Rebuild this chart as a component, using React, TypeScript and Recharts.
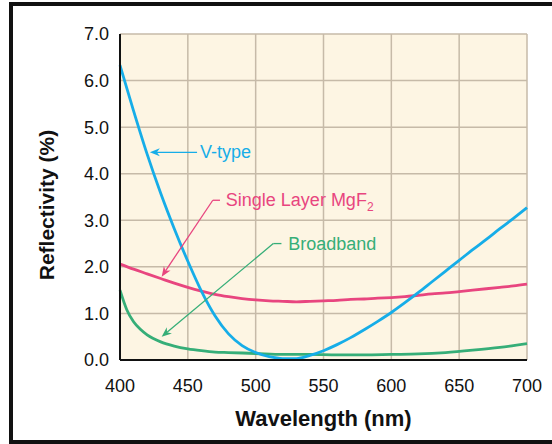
import React from 'react';
import { LineChart, Line, XAxis, YAxis, CartesianGrid, ReferenceLine, ReferenceDot } from 'recharts';

// Reflectivity (%), per coating
const vTypeNm = [400, 410, 420, 430, 440, 450, 460, 470, 480, 490, 500, 510, 520, 530, 540, 550, 560, 570, 580, 590, 600, 610, 620, 630, 640, 650, 660, 670, 680, 690, 700];
const vTypeR = [6.33, 5.35, 4.42, 3.58, 2.82, 2.12, 1.48, 0.95, 0.56, 0.31, 0.16, 0.07, 0.03, 0.03, 0.1, 0.2, 0.33, 0.48, 0.65, 0.83, 1.02, 1.23, 1.45, 1.68, 1.91, 2.14, 2.37, 2.59, 2.82, 3.04, 3.27];

const mgf2Nm = [400, 410, 420, 430, 440, 450, 460, 470, 480, 490, 500, 510, 520, 530, 540, 550, 560, 570, 580, 590, 600, 610, 620, 630, 640, 650, 660, 670, 680, 690, 700];
const mgf2R = [2.06, 1.95, 1.85, 1.75, 1.65, 1.56, 1.48, 1.41, 1.36, 1.32, 1.29, 1.27, 1.26, 1.25, 1.26, 1.27, 1.28, 1.3, 1.31, 1.33, 1.34, 1.36, 1.39, 1.42, 1.44, 1.47, 1.5, 1.53, 1.56, 1.59, 1.63];

const broadNm = [400, 405, 410, 415, 420, 430, 440, 450, 460, 470, 480, 490, 500, 520, 540, 560, 580, 600, 620, 640, 660, 680, 700];
const broadR = [1.5, 1.08, 0.82, 0.66, 0.54, 0.39, 0.3, 0.24, 0.2, 0.17, 0.16, 0.15, 0.14, 0.12, 0.12, 0.11, 0.11, 0.12, 0.13, 0.16, 0.21, 0.27, 0.35];

const xTicks = [400, 450, 500, 550, 600, 650, 700];
const yTicks = [0, 1, 2, 3, 4, 5, 6, 7];

const toRows = (nm: number[], r: number[]) => nm.map((w, i) => ({ nm: w, r: r[i] }));
const vType = toRows(vTypeNm, vTypeR);
const mgf2 = toRows(mgf2Nm, mgf2R);
const broad = toRows(broadNm, broadR);

const BLUE = '#16ade8';
const PINK = '#e8457f';
const GREEN = '#36ae78';
const FONT = '"Liberation Sans", Arial, sans-serif';

// leader line, arrowhead at the second point when arrow is set
const leader = (color: string, arrow: boolean) => (p: any) => {
  const { x1, y1, x2, y2 } = p;
  if (!arrow) return <line x1={x1} y1={y1} x2={x2} y2={y2} stroke={color} strokeWidth={1.3} />;
  const a = Math.atan2(y2 - y1, x2 - x1);
  const L = 10, W = 4;
  const bx = x2 - L * Math.cos(a), by = y2 - L * Math.sin(a);
  const nx = x2 - L * 0.7 * Math.cos(a), ny = y2 - L * 0.7 * Math.sin(a);
  const pts = [
    [x2, y2],
    [bx + W * Math.sin(a), by - W * Math.cos(a)],
    [nx, ny],
    [bx - W * Math.sin(a), by + W * Math.cos(a)],
  ].map((q) => q.join(',')).join(' ');
  return (
    <g>
      <line x1={x1} y1={y1} x2={nx} y2={ny} stroke={color} strokeWidth={1.3} />
      <polygon points={pts} fill={color} />
    </g>
  );
};

const note = (text: string, color: string, sub?: string) => (p: any) => (
  <text x={p.cx} y={p.cy} dy={6} fill={color} fontSize={18} fontFamily={FONT} textAnchor="start">
    <tspan>{text}</tspan>
    {sub && <tspan dy={5} fontSize={12}>{sub}</tspan>}
  </text>
);

const tickStyle = { fill: '#111', fontSize: 18, fontFamily: FONT };

export default function App() {
  return (
    <div style={{ position: 'fixed', left: 0, top: 0, width: 552, height: 444, background: '#fff', overflow: 'hidden' }}>
      <div style={{ position: 'absolute', left: 9, top: 2, width: 600, height: 434, border: '4px solid #111' }} />
      <div style={{ position: 'absolute', left: 0, top: 0 }}>
        <LineChart width={552} height={444} margin={{ top: 34, right: 25, bottom: 34, left: 0 }}>
          <CartesianGrid fill="#fdf5e3" stroke="#c6baa8" strokeWidth={1.5} horizontalValues={yTicks} verticalValues={xTicks} />
          <XAxis
            dataKey="nm" type="number" domain={[400, 700]} ticks={xTicks} allowDuplicatedCategory={false} height={50}
            tick={tickStyle} tickSize={0} tickMargin={19} axisLine={{ stroke: '#111', strokeWidth: 2 }}
          />
          <XAxis xAxisId="top" orientation="top" type="number" domain={[400, 700]} tick={false} height={0} axisLine={{ stroke: '#555', strokeWidth: 1.5 }} />
          <YAxis
            type="number" domain={[0, 7]} ticks={yTicks} width={120} tickFormatter={(v: number) => v.toFixed(1)}
            tick={tickStyle} tickSize={0} tickMargin={11} axisLine={{ stroke: '#111', strokeWidth: 2 }}
          />
          <YAxis yAxisId="right" orientation="right" type="number" domain={[0, 7]} tick={false} width={0} axisLine={{ stroke: '#555', strokeWidth: 1.5 }} />

          <Line data={broad} dataKey="r" type="monotone" stroke={GREEN} strokeWidth={2.8} dot={false} isAnimationActive={false} />
          <Line data={mgf2} dataKey="r" type="monotone" stroke={PINK} strokeWidth={2.8} dot={false} isAnimationActive={false} />
          <Line data={vType} dataKey="r" type="monotone" stroke={BLUE} strokeWidth={2.8} dot={false} isAnimationActive={false} />

          <ReferenceLine segment={[{ x: 456.8, y: 4.46 }, { x: 422, y: 4.46 }]} shape={leader(BLUE, true)} />
          <ReferenceDot x={459} y={4.46} r={0} shape={note('V-type', BLUE)} />

          <ReferenceLine segment={[{ x: 473.7, y: 3.43 }, { x: 468.4, y: 3.43 }]} shape={leader(PINK, false)} />
          <ReferenceLine segment={[{ x: 468.4, y: 3.43 }, { x: 430.7, y: 1.79 }]} shape={leader(PINK, true)} />
          <ReferenceDot x={478} y={3.43} r={0} shape={note('Single Layer MgF', PINK, '2')} />

          <ReferenceLine segment={[{ x: 519, y: 2.5 }, { x: 513, y: 2.5 }]} shape={leader(GREEN, false)} />
          <ReferenceLine segment={[{ x: 513, y: 2.5 }, { x: 430.7, y: 0.5 }]} shape={leader(GREEN, true)} />
          <ReferenceDot x={524} y={2.5} r={0} shape={note('Broadband', GREEN)} />
        </LineChart>
      </div>
      <div style={{ position: 'absolute', left: 120, width: 407, top: 406, textAlign: 'center', fontFamily: FONT, fontWeight: 'bold', fontSize: 22, color: '#111' }}>
        Wavelength (nm)
      </div>
      <div style={{ position: 'absolute', left: 47, top: 205, transform: 'translate(-50%, -50%) rotate(-90deg)', whiteSpace: 'nowrap', fontFamily: FONT, fontWeight: 'bold', fontSize: 21, color: '#111' }}>
        Reflectivity (%)
      </div>
    </div>
  );
}
